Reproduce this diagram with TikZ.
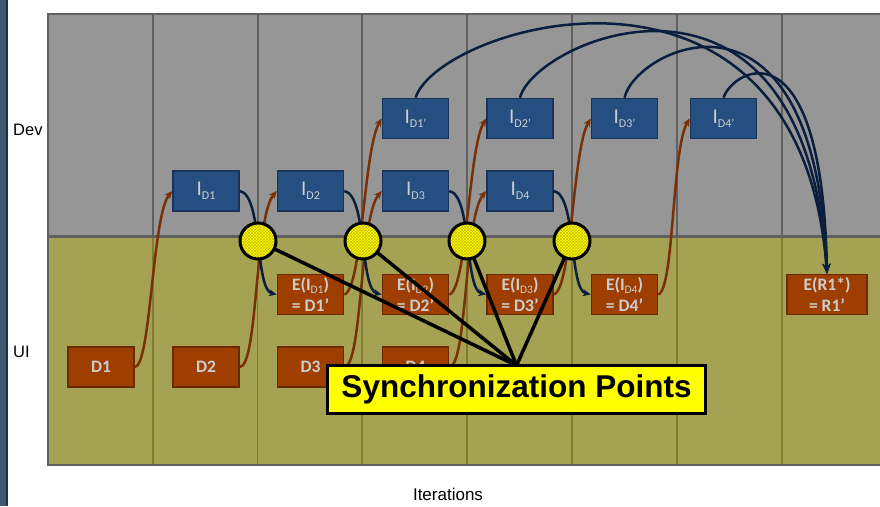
\documentclass[tikz,border=0pt]{standalone}
\usepackage{fontspec}
\setmainfont{Liberation Sans}
\newfontfamily\boxfont{Carlito}
\usetikzlibrary{arrows.meta,patterns}

\definecolor{devgrey}{RGB}{150,150,150}
\definecolor{uiolive}{RGB}{165,162,84}
\definecolor{gridgrey}{RGB}{95,95,95}
\definecolor{gridolive}{RGB}{128,125,48}
\definecolor{boxblue}{RGB}{37,79,128}
\definecolor{boxblueline}{RGB}{24,52,90}
\definecolor{boxorange}{RGB}{158,62,0}
\definecolor{boxorangeline}{RGB}{108,40,0}
\definecolor{boxtext}{RGB}{205,205,205}
\definecolor{flowbrown}{RGB}{122,48,5}
\definecolor{flownavy}{RGB}{10,30,62}
\definecolor{syncyellow}{RGB}{255,255,0}
\definecolor{synchatch}{RGB}{200,190,0}
\definecolor{sidebar}{RGB}{60,90,112}
\definecolor{sidebaredge}{RGB}{30,50,68}

% I with a subscript, as in the Dev boxes
\newcommand{\Isub}[1]{{\fontsize{21}{21}\selectfont I}{\fontsize{12}{12}\selectfont\raisebox{-4pt}{#1}}}
% two-line E(...) label of the UI boxes
\newcommand{\Ebox}[2]{E(I{\mdseries\fontsize{11.5}{11.5}\selectfont\raisebox{-3pt}{#1}})\\= #2}

\tikzset{
  devbox/.style={draw=boxblueline, fill=boxblue, line width=1.5pt,
    minimum width=66pt, minimum height=40pt, inner sep=0pt,
    text=boxtext, font=\boxfont},
  uibox/.style={draw=boxorangeline, fill=boxorange, line width=1.5pt,
    minimum width=66pt, minimum height=40pt, inner sep=0pt,
    text=boxtext, align=center,
    font=\boxfont\bfseries\fontsize{17.5}{20.5}\selectfont},
  brownflow/.style={draw=flowbrown, line width=2.5pt,
    -{Stealth[length=8pt,width=7pt]}},
  navyflow/.style={draw=flownavy, line width=2.5pt,
    -{Stealth[length=8pt,width=7pt]}},
  navyarc/.style={draw=flownavy, line width=2.5pt,
    -{Stealth[length=10pt,width=8pt]}},
  syncpt/.style={circle, minimum size=36pt, inner sep=0pt,
    preaction={fill=syncyellow}, pattern=crosshatch,
    pattern color=synchatch, draw=black, line width=3pt},
  syncline/.style={draw=black, line width=3.5pt},
  synclabel/.style={draw=black, fill=syncyellow, line width=3pt,
    minimum width=378pt, minimum height=48pt, inner sep=0pt,
    font=\bfseries\fontsize{31.5}{34}\selectfont},
  lanelabel/.style={anchor=west, inner sep=0pt, font=\fontsize{16.5}{18}\selectfont},
}

\begin{document}
\begin{tikzpicture}[x=1pt, y=-1pt]
\useasboundingbox (0,0) rectangle (880,506);

% side bar
\fill[sidebar] (0,0) rectangle (6,506);
\fill[sidebaredge] (6,0) rectangle (7.5,506);

% swim lanes
\fill[devgrey] (48,14) rectangle (890,236);
\fill[uiolive] (48,236) rectangle (890,465);
\foreach \cx in {153,257.5,362,467,572,677,782}{
  \draw[gridgrey, line width=2pt] (\cx,14) -- (\cx,236);
  \draw[gridolive, line width=1.5pt] (\cx,236) -- (\cx,465);
}
\draw[gridgrey, line width=3pt] (48,236) -- (890,236);
\draw[gridgrey, line width=2pt] (890,14) -- (48,14) -- (48,465) -- (890,465);

% lane and axis labels
\node[lanelabel] (devlbl) at (13,130) {Dev};
\node[lanelabel] (uilbl) at (13,352) {UI};
\node[font=\fontsize{17}{18}\selectfont] (iters) at (448,494) {Iterations};

% Dev work items
\node[devbox] (i1)  at (206,191)   {\Isub{D1}};
\node[devbox] (i2)  at (310.5,191) {\Isub{D2}};
\node[devbox] (i3)  at (415.5,191) {\Isub{D3}};
\node[devbox] (i4)  at (520,191)   {\Isub{D4}};
\node[devbox] (i1p) at (415.5,118.5) {\Isub{D1’}};
\node[devbox] (i2p) at (520,118.5)   {\Isub{D2’}};
\node[devbox] (i3p) at (624.5,118.5) {\Isub{D3’}};
\node[devbox] (i4p) at (723.5,118.5) {\Isub{D4’}};

% UI work items
\node[uibox] (d1) at (101,367)   {D1};
\node[uibox] (d2) at (206,367)   {D2};
\node[uibox] (d3) at (310.5,367) {D3};
\node[uibox] (d4) at (415.5,367) {D4};
\node[uibox] (e1) at (310.5,294.5) {\Ebox{D1}{D1’}};
\node[uibox] (e2) at (415.5,294.5) {\Ebox{D2}{D2’}};
\node[uibox] (e3) at (520,294.5)   {\Ebox{D3}{D3’}};
\node[uibox] (e4) at (624.5,294.5) {\Ebox{D4}{D4’}};
\node[uibox, minimum width=80pt] (er) at (827,294.5) {E(R1*)\\= R1’};

% UI -> Dev hand-overs
\draw[brownflow] (d1.east) .. controls +(16,0) and +(-20,24) .. (i1.west);
\draw[brownflow] (d2.east) .. controls +(18,0) and +(-22,26) .. (i2.west);
\draw[brownflow] (d3.east) .. controls +(18,0) and +(-22,26) .. (i3.west);
\draw[brownflow] (d4.east) .. controls +(18,0) and +(-22,26) .. (i4.west);
\draw[brownflow] (e1.east) .. controls +(18,-5) and +(-18,30) .. (i1p.west);
\draw[brownflow] (e2.east) .. controls +(18,-5) and +(-18,30) .. (i2p.west);
\draw[brownflow] (e3.east) .. controls +(18,-5) and +(-18,30) .. (i3p.west);
\draw[brownflow] (e4.east) .. controls +(16,-5) and +(-18,30) .. (i4p.west);

% Dev -> UI hand-overs
\draw[navyflow] (i1.east) .. controls +(23,4) and +(-22,-5) .. (e1.west);
\draw[navyflow] (i2.east) .. controls +(23,4) and +(-22,-5) .. (e2.west);
\draw[navyflow] (i3.east) .. controls +(23,4) and +(-22,-5) .. (e3.west);
\draw[navyflow] (i4.east) .. controls +(23,4) and +(-22,-5) .. (e4.west);

% revised items feeding the release
\draw[navyarc] (i1p.north) .. controls +(24.5,-74) and +(-27,-354.5) .. (er.north);
\draw[navyarc] (i2p.north) .. controls +(15,-59) and +(-22,-349.5) .. (er.north);
\draw[navyarc] (i3p.north) .. controls +(10.5,-49) and +(-12,-314.5) .. (er.north);
\draw[navyarc] (i4p.north) .. controls +(9.5,-29) and +(-5,-254.5) .. (er.north);

% synchronization points and their callout
\coordinate (hub) at (516.5,365.5);
\path (258,241) coordinate (p1) (363,241) coordinate (p2)
      (467,241) coordinate (p3) (572,241) coordinate (p4);
\foreach \k in {1,2,3,4}{ \draw[syncline] (hub) -- (p\k); }
\foreach \k in {1,2,3,4}{ \node[syncpt] (s\k) at (p\k) {}; }
\node[synclabel] (sync) at (516.5,389.5) {Synchronization Points};
\end{tikzpicture}
\end{document}
